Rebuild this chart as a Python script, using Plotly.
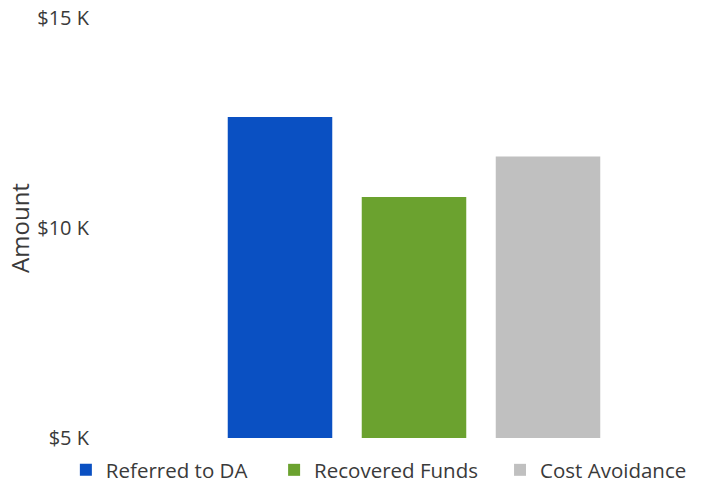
import plotly.graph_objects as go

categories = ["Referred to DA", "Recovered Funds", "Cost Avoidance"]
values_k = [12.64, 10.74, 11.70]
colors = ["#0A50C2", "#6BA22F", "#C0C0C0"]
tick_vals = [5, 10, 15]
tick_text = ["$5 K", "$10 K", "$15 K"]
legend_x = [-0.366, 0.152, 0.714]

fig = go.Figure()
legend_names = ["legend", "legend2", "legend3"]
for cat, val, col, lg in zip(categories, values_k, colors, legend_names):
    fig.add_trace(go.Bar(
        x=[cat], y=[val], name=cat, marker=dict(color=col, line=dict(width=0)),
        width=0.78, base=0, legend=lg,
    ))

legend_common = dict(orientation="h", y=-0.0762, yanchor="middle", xanchor="left",
                     font=dict(size=20.5), bgcolor="rgba(0,0,0,0)")

fig.update_layout(
    width=705, height=486,
    barmode="overlay",
    paper_bgcolor="white", plot_bgcolor="white",
    margin=dict(l=213, r=90, t=18, b=48, autoexpand=False),
    font=dict(family="Open Sans, sans-serif", color="#3a3a3a", size=20),
    showlegend=True,
    legend=dict(x=legend_x[0], **legend_common),
    legend2=dict(x=legend_x[1], **legend_common),
    legend3=dict(x=legend_x[2], **legend_common),
    xaxis=dict(visible=False, range=[-0.5, 2.5], categoryorder="array", categoryarray=categories),
    yaxis=dict(range=[5, 15], tickvals=tick_vals, ticktext=tick_text, showgrid=False,
               zeroline=False, showline=False, ticks="", ticklabelstandoff=123,
               tickfont=dict(size=20),
               title=dict(text="Amount", standoff=0, font=dict(size=24)),
               automargin=False),
)

fig.write_html("out.html", config={"displayModeBar": False},
               post_script="document.body.style.margin='0';document.body.style.overflow='hidden';")
